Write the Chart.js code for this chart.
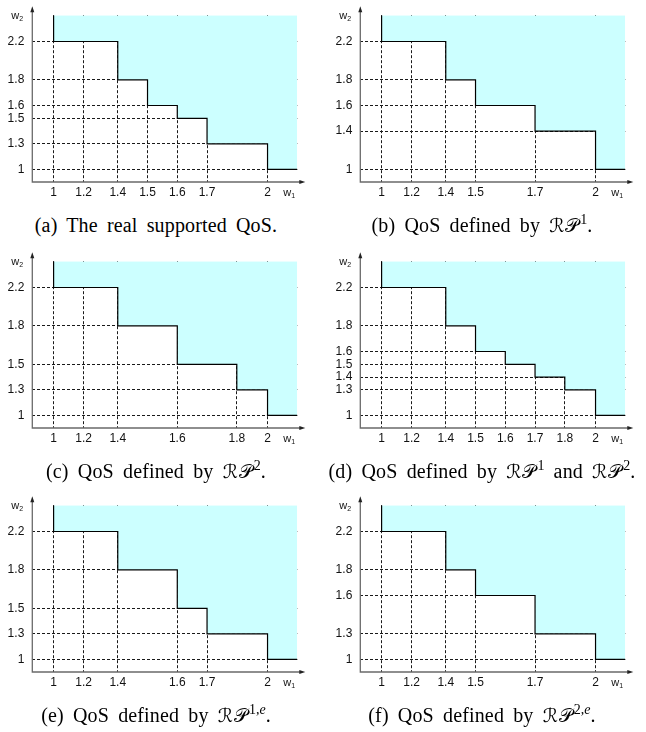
<!DOCTYPE html>
<html>
<head>
<meta charset="utf-8">
<script src="https://cdn.jsdelivr.net/npm/chart.js@4.4.0/dist/chart.umd.min.js"></script>
<style>
  html, body { margin: 0; padding: 0; background: #fff; }
  body { width: 646px; height: 732px; position: relative; overflow: hidden; }
  canvas { position: absolute; }
  .cap { position: absolute; width: 312px; text-align: center; white-space: nowrap;
         font-family: "Liberation Serif", "Times New Roman", serif; font-size: 20px; line-height: 26px; color: #000;
         word-spacing: 4px; letter-spacing: 0.15px; }
  .cal { font-family: "DejaVu Serif", "DejaVu Sans", serif; font-size: 19px; letter-spacing: 1px; }
  sup { font-size: 14px; line-height: 0; vertical-align: 0.6em; letter-spacing: 0; }
</style>
</head>
<body>
<canvas id="pa" width="318" height="212" style="left:0;top:0"></canvas>
<canvas id="pb" width="318" height="212" style="left:328px;top:0"></canvas>
<canvas id="pc" width="318" height="212" style="left:0;top:246px"></canvas>
<canvas id="pd" width="318" height="212" style="left:328px;top:246px"></canvas>
<canvas id="pe" width="318" height="212" style="left:0;top:490px"></canvas>
<canvas id="pf" width="318" height="212" style="left:328px;top:490px"></canvas>

<div class="cap" style="left:0;top:212px">(a) The real supported QoS.</div>
<div class="cap" style="left:326px;top:212px">(b) QoS defined by <span class="cal">ℛ𝒫</span><sup>1</sup>.</div>
<div class="cap" style="left:0;top:458px">(c) QoS defined by <span class="cal">ℛ𝒫</span><sup>2</sup>.</div>
<div class="cap" style="left:326px;top:458px">(d) QoS defined by <span class="cal">ℛ𝒫</span><sup>1</sup> and <span class="cal">ℛ𝒫</span><sup>2</sup>.</div>
<div class="cap" style="left:0;top:702px">(e) QoS defined by <span class="cal">ℛ𝒫</span><sup>1,<i>e</i></sup>.</div>
<div class="cap" style="left:326px;top:702px">(f) QoS defined by <span class="cal">ℛ𝒫</span><sup>2,<i>e</i></sup>.</div>

<script>
// corner points (w1, w2) of each staircase, plus the tick labels of each panel
const aW1 = [1, 1.4, 1.5, 1.6, 1.7, 2];
const aW2 = [2.2, 1.8, 1.6, 1.5, 1.3, 1];
const aXTicks = [1, 1.2, 1.4, 1.5, 1.6, 1.7, 2];
const aYTicks = [1, 1.3, 1.5, 1.6, 1.8, 2.2];

const bW1 = [1, 1.4, 1.5, 1.7, 2];
const bW2 = [2.2, 1.8, 1.6, 1.4, 1];
const bXTicks = [1, 1.2, 1.4, 1.5, 1.7, 2];
const bYTicks = [1, 1.4, 1.6, 1.8, 2.2];

const cW1 = [1, 1.4, 1.6, 1.8, 2];
const cW2 = [2.2, 1.8, 1.5, 1.3, 1];
const cXTicks = [1, 1.2, 1.4, 1.6, 1.8, 2];
const cYTicks = [1, 1.3, 1.5, 1.8, 2.2];

const dW1 = [1, 1.4, 1.5, 1.6, 1.7, 1.8, 2];
const dW2 = [2.2, 1.8, 1.6, 1.5, 1.4, 1.3, 1];
const dXTicks = [1, 1.2, 1.4, 1.5, 1.6, 1.7, 1.8, 2];
const dYTicks = [1, 1.3, 1.4, 1.5, 1.6, 1.8, 2.2];

const eW1 = [1, 1.4, 1.6, 1.7, 2];
const eW2 = [2.2, 1.8, 1.5, 1.3, 1];
const eXTicks = [1, 1.2, 1.4, 1.6, 1.7, 2];
const eYTicks = [1, 1.3, 1.5, 1.8, 2.2];

const fW1 = [1, 1.4, 1.5, 1.7, 2];
const fW2 = [2.2, 1.8, 1.6, 1.3, 1];
const fXTicks = [1, 1.2, 1.4, 1.5, 1.7, 2];
const fYTicks = [1, 1.3, 1.6, 1.8, 2.2];

// where the drawn region ends (right edge of w1, top of w2)
const X_END = 2.2;
const Y_TOP = 2.5;

// the schematic axes are not linear: value -> fraction of the plot area
const X_STOPS = [[1, 0.0804], [1.2, 0.1934], [1.4, 0.3225], [1.8, 0.7717], [2, 0.8877], [2.2, 1]];
const Y_STOPS = [[1, 0.0758], [1.3, 0.2287], [1.8, 0.6119], [2.2, 0.8424], [2.5, 1]];

const CYAN = '#ccffff';
const GRID = '#1a1a1a';
const AXIS = '#6a6a6a';

function warp(v, stops) {
  let i = 1;
  while (i < stops.length - 1 && v > stops[i][0]) i++;
  const [v0, d0] = stops[i - 1];
  const [v1, d1] = stops[i];
  return d0 + (v - v0) * (d1 - d0) / (v1 - v0);
}

function unwarp(d, stops) {
  let i = 1;
  while (i < stops.length - 1 && d > stops[i][1]) i++;
  const [v0, d0] = stops[i - 1];
  const [v1, d1] = stops[i];
  return v0 + (d - d0) * (v1 - v0) / (d1 - d0);
}

class WarpScale extends Chart.LinearScale {
  getPixelForValue(value) {
    return this.getPixelForDecimal(warp(value, this.axis === 'x' ? X_STOPS : Y_STOPS));
  }
  getValueForPixel(pixel) {
    return unwarp(this.getDecimalForPixel(pixel), this.axis === 'x' ? X_STOPS : Y_STOPS);
  }
}
WarpScale.id = 'warp';
WarpScale.defaults = Chart.LinearScale.defaults;
Chart.register(WarpScale);

// axis lines with arrow heads, and the w1 / w2 labels
const axisDecor = {
  id: 'axisDecor',
  afterDatasetsDraw(chart) {
    const { ctx, chartArea: a } = chart;
    ctx.save();
    ctx.strokeStyle = AXIS;
    ctx.lineWidth = 1.3;
    ctx.beginPath();
    ctx.moveTo(a.left, a.top - 5);
    ctx.lineTo(a.left, a.bottom);
    ctx.lineTo(a.right + 4, a.bottom);
    ctx.stroke();
    ctx.fillStyle = '#222';
    ctx.beginPath();
    ctx.moveTo(a.left, a.top - 9);
    ctx.lineTo(a.left - 2, a.top - 3);
    ctx.lineTo(a.left + 2, a.top - 3);
    ctx.closePath();
    ctx.fill();
    ctx.beginPath();
    ctx.moveTo(a.right + 8, a.bottom);
    ctx.lineTo(a.right + 2, a.bottom - 2);
    ctx.lineTo(a.right + 2, a.bottom + 2);
    ctx.closePath();
    ctx.fill();

    ctx.fillStyle = '#111';
    ctx.textBaseline = 'alphabetic';
    ctx.textAlign = 'left';
    ctx.font = '11px "Liberation Sans", Arial, sans-serif';
    ctx.fillText('w', a.left - 21, a.top + 4);
    ctx.fillText('w', a.right - 14, a.bottom + 14);
    ctx.font = '7px "Liberation Sans", Arial, sans-serif';
    ctx.fillText('2', a.left - 13, a.top + 6);
    ctx.fillText('1', a.right - 6, a.bottom + 16);
    ctx.restore();
  },
};

function tickFont() {
  return { family: '"Liberation Sans", Arial, sans-serif', size: 12 };
}

function makePanel(id, w1, w2, xTicks, yTicks) {
  const pts = [{ x: w1[0], y: Y_TOP }];
  w1.forEach((x, i) => pts.push({ x: x, y: w2[i] }));
  pts.push({ x: X_END, y: w2[w2.length - 1] });

  new Chart(document.getElementById(id), {
    type: 'line',
    data: {
      datasets: [
        {
          data: pts,
          stepped: true,
          borderColor: '#000',
          borderWidth: 1.2,
          backgroundColor: CYAN,
          fill: 'end',
          pointRadius: 0,
        },
      ],
    },
    options: {
      responsive: false,
      animation: false,
      devicePixelRatio: 1,
      layout: { padding: { top: 14.7, right: 20.7, left: 0, bottom: 0 } },
      plugins: { legend: { display: false }, tooltip: { enabled: false } },
      scales: {
        x: {
          type: 'warp',
          min: 0.85,
          max: X_END,
          afterBuildTicks: (s) => { s.ticks = xTicks.map((v) => ({ value: v })); },
          afterFit: (s) => { s.height = 30; },
          grid: { color: GRID, lineWidth: 1, drawTicks: false },
          border: { display: false, dash: [3, 2] },
          ticks: { autoSkip: false, maxRotation: 0, padding: 3, color: '#111', font: tickFont(), callback: (v) => String(v) },
        },
        y: {
          type: 'warp',
          min: 0.85,
          max: Y_TOP,
          afterBuildTicks: (s) => { s.ticks = yTicks.map((v) => ({ value: v })); },
          afterFit: (s) => { s.width = 32.3; },
          grid: { color: GRID, lineWidth: 1, drawTicks: false },
          border: { display: false, dash: [3, 2] },
          ticks: { autoSkip: false, padding: 8, color: '#111', font: tickFont(), callback: (v) => String(v) },
        },
      },
    },
    plugins: [axisDecor],
  });
}

makePanel('pa', aW1, aW2, aXTicks, aYTicks);
makePanel('pb', bW1, bW2, bXTicks, bYTicks);
makePanel('pc', cW1, cW2, cXTicks, cYTicks);
makePanel('pd', dW1, dW2, dXTicks, dYTicks);
makePanel('pe', eW1, eW2, eXTicks, eYTicks);
makePanel('pf', fW1, fW2, fXTicks, fYTicks);
</script>
</body>
</html>
